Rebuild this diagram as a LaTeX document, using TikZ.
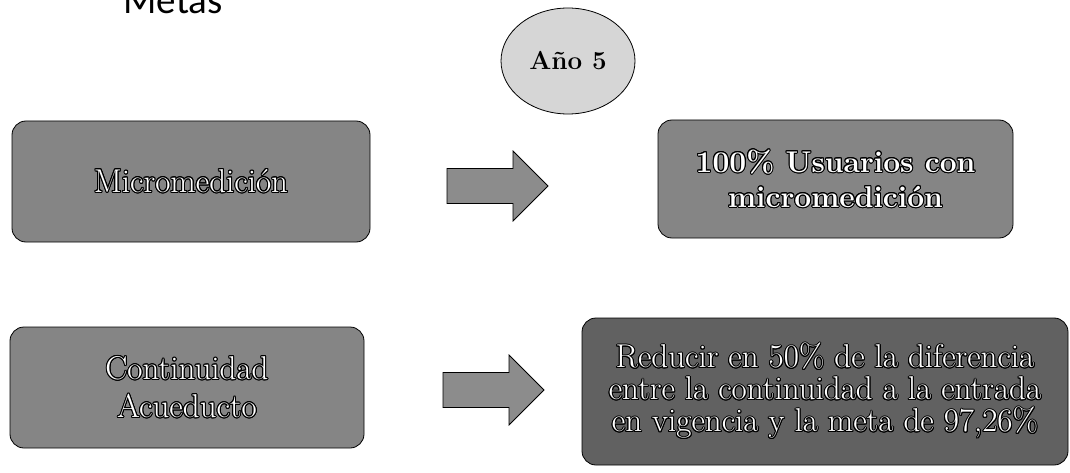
\documentclass[tikz,border=0pt]{standalone}
\usepackage{fontspec}
\usepackage[copies]{contour}
\usepackage{tikz}
\usetikzlibrary{shapes.geometric}
\newfontfamily\titlefont{Carlito}
\contourlength{1pt}
\definecolor{cajagris}{gray}{0.52}
\definecolor{cajaoscura}{gray}{0.38}
\definecolor{flechagris}{gray}{0.55}
\definecolor{elipsegris}{gray}{0.84}

\begin{document}
\begin{tikzpicture}[x=1pt,y=-1pt,
    caja/.style={draw=black, thick, rounded corners=14pt, text=white,
      align=center, inner sep=0pt},
    flecha/.style={draw=black, thick, fill=flechagris}]
    \useasboundingbox (0,0) rectangle (1070,473);
    \clip (0,0) rectangle (1070,473);

    \node [anchor=base west, font=\titlefont\fontsize{39}{40}\selectfont]
      (titulo) at (120,14) {Metas};

    \node [draw=black, thick, fill=elipsegris, ellipse, minimum width=134pt,
      minimum height=106pt, inner sep=0pt,
      font=\bfseries\fontsize{26}{28}\selectfont] (anio) at (568,61) {Año 5};

    \node [caja, fill=cajagris, minimum width=358pt, minimum height=121pt,
      font=\fontsize{33}{38}\selectfont] (micro) at (191,181.5)
      {\contour{black}{Micromedición}};
    \node [caja, fill=cajagris, minimum width=355pt, minimum height=118pt,
      font=\bfseries\fontsize{30}{35}\selectfont] (metmicro) at (835.5,179)
      {\contour{black}{100\% Usuarios con}\\\contour{black}{micromedición}};
    \node [caja, fill=cajagris, minimum width=354pt, minimum height=121pt,
      font=\fontsize{33}{38}\selectfont] (conti) at (187,387.5)
      {\contour{black}{Continuidad}\\\contour{black}{Acueducto}};
    \node [caja, fill=cajaoscura, minimum width=486pt, minimum height=147pt,
      font=\fontsize{33}{32}\selectfont] (metconti) at (825,391.5)
      {\contour{black}{Reducir en 50\% de la diferencia}\\
       \contour{black}{entre la continuidad a la entrada}\\
       \contour{black}{en vigencia y la meta de 97,26\%}};

    \foreach \x/\y in {447/186, 443/390} {
      \draw [flecha] (\x,\y-17.5) -- (\x+66,\y-17.5) -- (\x+66,\y-35)
        -- (\x+101,\y) -- (\x+66,\y+35) -- (\x+66,\y+17.5)
        -- (\x,\y+17.5) -- cycle ;
    }

  \end{tikzpicture}
\end{document}
